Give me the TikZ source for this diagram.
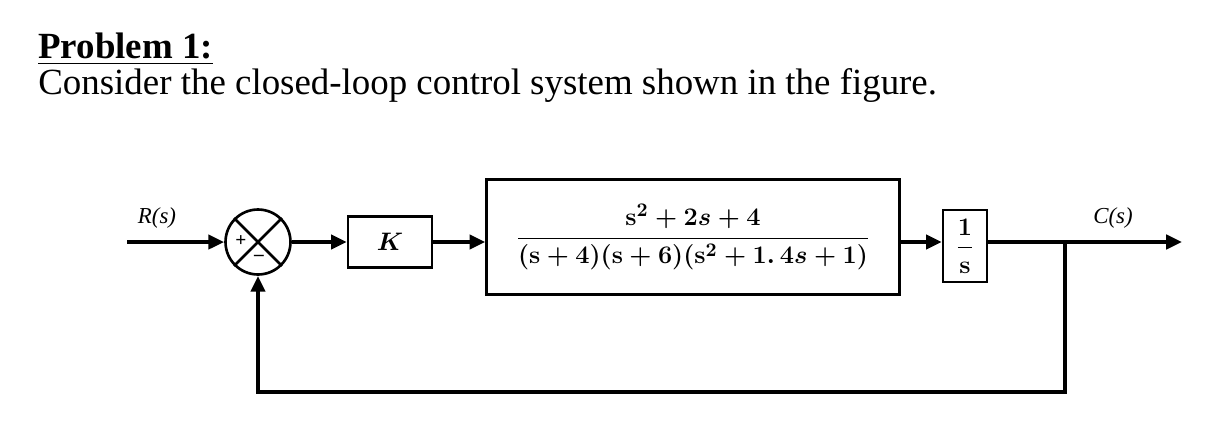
\documentclass[tikz,border=0pt]{standalone}
\usepackage{amsmath}
\usepackage{fontspec}
\setmainfont{Liberation Serif}
\usetikzlibrary{arrows.meta,positioning}

\begin{document}
\begin{tikzpicture}[x=0.02cm, y=-0.02cm,
    sig/.style={line width=2.4pt, -{Triangle[length=9pt,width=8pt]}},
    blk/.style={draw, line width=1.3pt, inner sep=0pt},
    lbl/.style={font=\fontsize{13}{15}\selectfont\itshape}]
    \useasboundingbox (0,0) rectangle (1226,444);

    % heading
    \node[anchor=base west, inner sep=0pt, font=\fontsize{21}{24}\selectfont\bfseries] (head) at (38,58) {\underline{Problem 1:}};
    \node[anchor=base west, inner sep=0pt, font=\fontsize{21}{24}\selectfont] (intro) at (38,94) {Consider the closed-loop control system shown in the figure.};

    % blocks
    \node[draw, line width=1.5pt, circle, inner sep=0pt, minimum size=1.3cm] (sum) at (258,242) {};
    \draw[line width=1.5pt] (sum.north west) -- (sum.south east) (sum.north east) -- (sum.south west);
    \node[font=\fontsize{11}{11}\selectfont\bfseries] (plus) at (241,241) {+};
    \node[font=\fontsize{11}{11}\selectfont\bfseries] (minus) at (259,258) {--};
    \node[blk, minimum width=1.68cm, minimum height=1.02cm, font=\fontsize{14}{14}\selectfont\boldmath] (gain) at (390,242) {$K$};
    \node[blk, minimum width=8.26cm, minimum height=2.3cm, font=\fontsize{15}{18}\selectfont\boldmath] (plant) at (693,237) {$\dfrac{\mathbf{s}^2+2s+4}{(\mathbf{s}+4)(\mathbf{s}+6)(\mathbf{s}^2+1.\,4s+1)}$};
    \node[blk, minimum width=0.88cm, minimum height=1.44cm, font=\fontsize{14}{16}\selectfont\boldmath] (integ) at (965,246) {$\dfrac{1}{\mathbf{s}}$};

    % labels
    \node[lbl] (rlabel) at (157,218) {R(s)};
    \node[lbl] (clabel) at (1113,218) {C(s)};

    % signals
    \coordinate (rin) at (127,242);
    \coordinate (cout) at (1182,242);
    \coordinate (tap) at (1065,242);
    \coordinate (fbr) at (1065,392);
    \coordinate (fbl) at (258,392);
    \draw[sig] (rin) -- (sum.west);
    \draw[sig] (sum.east) -- (gain.west);
    \draw[sig] (gain.east) -- (gain.east -| plant.west);
    \draw[sig] (plant.east |- cout) -- (integ.west |- cout);
    \draw[sig] (integ.east |- cout) -- (cout);
    \draw[sig] (tap) -- (fbr) -- (fbl) -- (sum.south);
\end{tikzpicture}
\end{document}
